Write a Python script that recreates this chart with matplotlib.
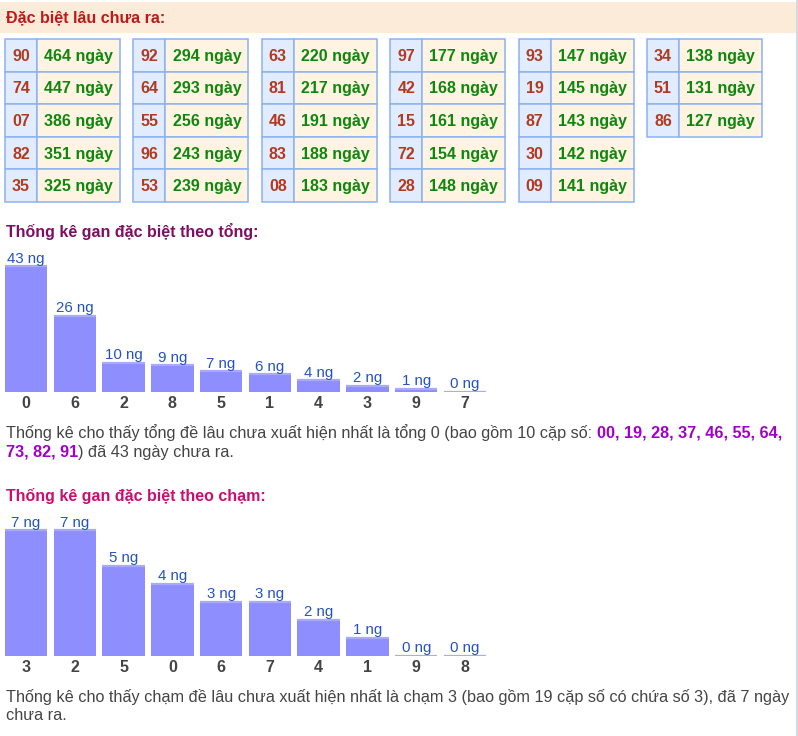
import matplotlib
matplotlib.use("Agg")
import matplotlib.pyplot as plt
from matplotlib.patches import Rectangle

plt.rcParams['font.family'] = ['Liberation Sans', 'DejaVu Sans']

# ---------------- data ----------------
title_main = "Đặc biệt lâu chưa ra:"
pair_numbers = ["90", "74", "07", "82", "35",
                "92", "64", "55", "96", "53",
                "63", "81", "46", "83", "08",
                "97", "42", "15", "72", "28",
                "93", "19", "87", "30", "09",
                "34", "51", "86"]
pair_days = [464, 447, 386, 351, 325,
             294, 293, 256, 243, 239,
             220, 217, 191, 188, 183,
             177, 168, 161, 154, 148,
             147, 145, 143, 142, 141,
             138, 131, 127]

title_tong = "Thống kê gan đặc biệt theo tổng:"
tong_categories = ["0", "6", "2", "8", "5", "1", "4", "3", "9", "7"]
tong_values = [43, 26, 10, 9, 7, 6, 4, 2, 1, 0]

title_cham = "Thống kê gan đặc biệt theo chạm:"
cham_categories = ["3", "2", "5", "0", "6", "7", "4", "1", "9", "8"]
cham_values = [7, 7, 5, 4, 3, 3, 2, 1, 0, 0]

tong_text_line1 = [("Thống kê cho thấy tổng đề lâu chưa xuất hiện nhất là tổng 0 (bao gồm 10 cặp số: ", "n"),
                   ("00, 19, 28, 37, 46, 55, 64,", "b")]
tong_text_line2 = [("73, 82, 91", "b"), (") đã 43 ngày chưa ra.", "n")]
cham_text_line1 = [("Thống kê cho thấy chạm đề lâu chưa xuất hiện nhất là chạm 3 (bao gồm 19 cặp số có chứa số 3), đã 7 ngày", "n")]
cham_text_line2 = [("chưa ra.", "n")]

# ---------------- figure ----------------
W, H = 798, 736
fig = plt.figure(figsize=(W / 100, H / 100), dpi=100)
fig.patch.set_facecolor("white")
bg = fig.add_axes([0, 0, 1, 1])
bg.set_xlim(0, W)
bg.set_ylim(H, 0)
bg.axis("off")

PX = 0.72  # points per pixel

# page right border
bg.plot([797, 797], [0, H], color="#C9D3DF", lw=1.2, solid_capstyle="butt")

# header band
bg.add_patch(Rectangle((0, 2), 796, 31, facecolor="#FCEBD8", edgecolor="none"))
bg.text(6, 18, title_main, fontsize=16 * PX, fontweight="bold", color="#C01818",
        va="center", ha="left")

# tables
row_top, row_h = 39, 32.6
num_w, val_w = 32, 83
for i, (n, d) in enumerate(zip(pair_numbers, pair_days)):
    g, r = divmod(i, 5)
    x0 = 5 + 128.4 * g
    y0 = row_top + r * row_h
    bg.add_patch(Rectangle((x0, y0), num_w, row_h, facecolor="#E1EDFF",
                           edgecolor="#8DB2F3", lw=1.1))
    bg.add_patch(Rectangle((x0 + num_w, y0), val_w, row_h, facecolor="#FFF4E1",
                           edgecolor="#8DB2F3", lw=1.1))
    bg.text(x0 + num_w / 2, y0 + row_h / 2 + 1, n, fontsize=16 * PX, fontweight="bold",
            color="#B23A1E", ha="center", va="center")
    bg.text(x0 + num_w + val_w / 2, y0 + row_h / 2 + 1, f"{d} ngày", fontsize=16 * PX,
            fontweight="bold", color="#0E870E", ha="center", va="center")

# section titles
bg.text(6, 232, title_tong, fontsize=16 * PX, fontweight="bold", color="#7E0F62",
        ha="left", va="center")
bg.text(6, 496, title_cham, fontsize=16 * PX, fontweight="bold", color="#CC0E6E",
        ha="left", va="center")


def bar_chart(cats, vals, base_px, px_per_unit):
    left, right = 1.6, 489.4
    height_px = 150
    ax = fig.add_axes([left / W, (H - base_px) / H, (right - left) / W, height_px / H])
    ax.set_xlim(-0.5, len(cats) - 0.5)
    ax.set_ylim(0, height_px / px_per_unit)
    ax.set_facecolor("none")
    xs = list(range(len(cats)))
    ax.bar(xs, vals, width=0.87, color="#8E8EFF", edgecolor="none")
    ax.hlines(vals, [x - 0.435 for x in xs], [x + 0.435 for x in xs],
              colors="#A9A9FF", lw=1.6)
    for x, v in zip(xs, vals):
        ax.annotate(f"{v} ng", (x, v), xytext=(0, 3.5 * PX), textcoords="offset points",
                    ha="center", va="baseline", fontsize=15 * PX, color="#2452C4")
    ax.set_xticks(xs)
    ax.set_xticklabels(cats, fontsize=16 * PX, fontweight="bold", color="#444444")
    ax.tick_params(axis="x", length=0, pad=3)
    ax.set_yticks([])
    for s in ax.spines.values():
        s.set_visible(False)
    ax.patch.set_alpha(0)
    return ax


bar_chart(tong_categories, tong_values, 391.7, 2.92)
bar_chart(cham_categories, cham_values, 655.7, 17.95)

# paragraphs with mixed styles
fig.canvas.draw()
renderer = fig.canvas.get_renderer()
inv = bg.transData.inverted()
PARA = 16.2 * PX


def draw_line(parts, x, y):
    for txt, style in parts:
        if style == "b":
            t = bg.text(x, y, txt, fontsize=PARA, fontweight="bold", color="#A100CC",
                        ha="left", va="center")
        else:
            t = bg.text(x, y, txt, fontsize=PARA, color="#444444",
                        ha="left", va="center")
        bb = t.get_window_extent(renderer)
        x = inv.transform((bb.x1, bb.y0))[0]


draw_line(tong_text_line1, 6, 433)
draw_line(tong_text_line2, 6, 452)
draw_line(cham_text_line1, 6, 697)
draw_line(cham_text_line2, 6, 716)

fig.savefig("out.png", dpi=100, facecolor="white")
